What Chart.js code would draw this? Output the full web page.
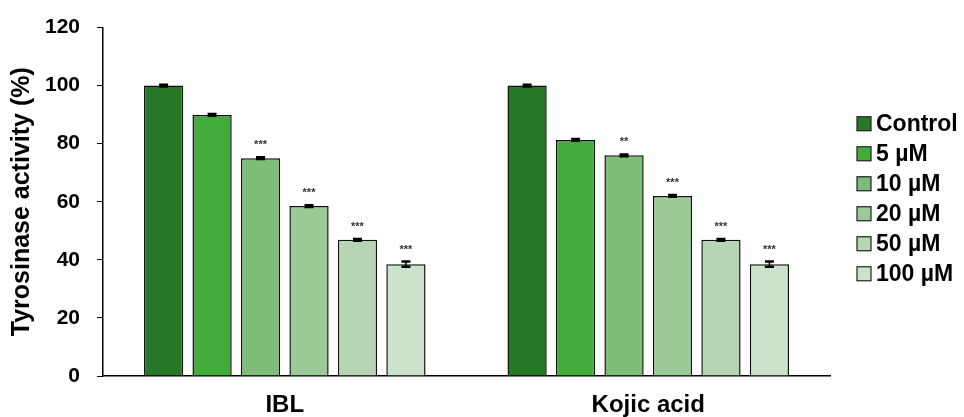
<!DOCTYPE html>
<html>
<head>
<meta charset="utf-8">
<script src="https://cdn.jsdelivr.net/npm/chart.js@4.4.0/dist/chart.umd.min.js"></script>
<style>
html,body{margin:0;padding:0;background:#fff;}
#wrap{width:964px;height:417px;position:relative;}
</style>
</head>
<body>
<div id="wrap"><canvas id="c" width="964" height="417"></canvas></div>
<script>
const categories = ['IBL', 'Kojic acid'];
const seriesNames = ['Control', '5 µM', '10 µM', '20 µM', '50 µM', '100 µM'];
const seriesColors = ['#267826', '#44ac3b', '#7dbd78', '#9bca96', '#b6d6b3', '#cce3cb'];
const controlVals = [100, 100];
const uM5Vals = [89.9, 81.3];
const uM10Vals = [75.0, 76.0];
const uM20Vals = [58.5, 62.0];
const uM50Vals = [46.9, 46.9];
const uM100Vals = [38.5, 38.5];
const controlErr = [0.3, 0.3];
const uM5Err = [0.3, 0.3];
const uM10Err = [0.3, 0.3];
const uM20Err = [0.3, 0.3];
const uM50Err = [0.3, 0.3];
const uM100Err = [0.9, 0.9];
const controlSig = ['', ''];
const uM5Sig = ['', ''];
const uM10Sig = ['***', '**'];
const uM20Sig = ['***', '***'];
const uM50Sig = ['***', '***'];
const uM100Sig = ['***', '***'];
const yTicks = [0, 20, 40, 60, 80, 100, 120];

const allVals = [controlVals, uM5Vals, uM10Vals, uM20Vals, uM50Vals, uM100Vals];
const allErr = [controlErr, uM5Err, uM10Err, uM20Err, uM50Err, uM100Err];
const allSig = [controlSig, uM5Sig, uM10Sig, uM20Sig, uM50Sig, uM100Sig];

const FONT = "'Liberation Sans', Arial, sans-serif";

const errPlugin = {
  id: 'errbars',
  afterDatasetsDraw(chart) {
    const ctx = chart.ctx;
    const y = chart.scales.y;
    chart.data.datasets.forEach((ds, di) => {
      const meta = chart.getDatasetMeta(di);
      meta.data.forEach((bar, i) => {
        const v = ds.data[i];
        const e = allErr[di][i];
        const x = bar.x;
        const yTop = y.getPixelForValue(v + e);
        const yBot = y.getPixelForValue(v - e);
        ctx.save();
        ctx.strokeStyle = '#000';
        ctx.lineWidth = 1.5;
        ctx.beginPath();
        ctx.moveTo(x, yTop); ctx.lineTo(x, yBot);
        ctx.stroke();
        ctx.lineWidth = 2.5;
        ctx.beginPath();
        ctx.moveTo(x - 4.5, yTop); ctx.lineTo(x + 4.5, yTop);
        ctx.moveTo(x - 4.5, yBot); ctx.lineTo(x + 4.5, yBot);
        ctx.stroke();
        const s = allSig[di][i];
        if (s) {
          ctx.fillStyle = '#333';
          ctx.font = 'bold 11px ' + FONT;
          ctx.textAlign = 'center';
          ctx.textBaseline = 'middle';
          ctx.fillText(s, x, yTop - 12);
        }
        ctx.restore();
      });
    });
  }
};

const legendPlugin = {
  id: 'sideLegend',
  afterDraw(chart) {
    const ctx = chart.ctx;
    const ca = chart.chartArea;
    const x0 = ca.right + 27;
    const yMid = (ca.top + ca.bottom) / 2;
    const step = 30;
    const n = chart.data.datasets.length;
    const yStart = yMid - 3 - step * (n - 1) / 2;
    ctx.save();
    ctx.font = 'bold 23px ' + FONT;
    ctx.textBaseline = 'middle';
    ctx.textAlign = 'left';
    chart.data.datasets.forEach((ds, i) => {
      const yc = yStart + i * step;
      ctx.fillStyle = ds.backgroundColor;
      ctx.fillRect(x0, yc - 7, 14, 14);
      ctx.strokeStyle = '#222';
      ctx.lineWidth = 1.2;
      ctx.strokeRect(x0, yc - 7, 14, 14);
      ctx.fillStyle = '#000';
      ctx.fillText(ds.label, x0 + 19, yc + 1);
    });
    ctx.restore();
  }
};

new Chart(document.getElementById('c'), {
  type: 'bar',
  data: {
    labels: categories,
    datasets: seriesNames.map((n, i) => ({
      label: n,
      data: allVals[i],
      backgroundColor: seriesColors[i],
      borderColor: '#111',
      borderWidth: 1.5,
      categoryPercentage: 0.8,
      barPercentage: 0.81
    }))
  },
  options: {
    responsive: false,
    animation: false,
    devicePixelRatio: 1,
    layout: { padding: { top: 16, right: 134, left: 7, bottom: -17 } },
    plugins: {
      legend: { display: false },
      tooltip: { enabled: false }
    },
    scales: {
      x: {
        grid: { display: false, drawTicks: false },
        border: { display: true, color: '#000', width: 1.5 },
        ticks: { color: '#000', padding: 17, font: { family: FONT, size: 24, weight: 'bold', lineHeight: 1 } }
      },
      y: {
        min: 0, max: 120,
        afterBuildTicks(scale) { scale.ticks = yTicks.map(v => ({ value: v })); },
        grid: { display: true, drawOnChartArea: false, drawTicks: true, tickLength: 6, color: '#000', lineWidth: 1 },
        border: { display: true, color: '#000', width: 1.5 },
        ticks: { color: '#000', padding: 17, font: { family: FONT, size: 21, weight: 'bold', lineHeight: 1 } },
        title: { display: true, text: 'Tyrosinase activity (%)', color: '#000', padding: { top: 0, bottom: -9 }, font: { family: FONT, size: 25, weight: 'bold' } }
      }
    }
  },
  plugins: [errPlugin, legendPlugin]
});
</script>
</body>
</html>
